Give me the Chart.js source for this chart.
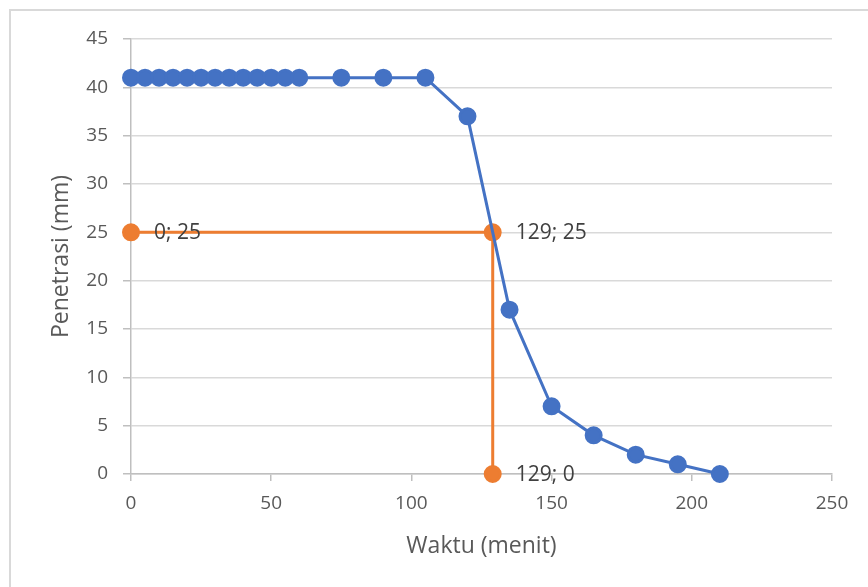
<!DOCTYPE html>
<html>
<head>
<meta charset="utf-8">
<script src="https://cdn.jsdelivr.net/npm/chart.js@4.4.0/dist/chart.umd.min.js"></script>
<style>
  html, body { margin: 0; padding: 0; background: #fff; }
  #wrap { position: relative; width: 868px; height: 587px; overflow: hidden; }
  #frame { position: absolute; left: 9px; top: 9px; width: 900px; height: 620px;
           border-left: 2px solid #d9d9d9; border-top: 2px solid #d9d9d9; box-sizing: border-box; }
  canvas { position: absolute; left: 0; top: 0; }
</style>
</head>
<body>
<div id="wrap">
  <div id="frame"></div>
  <canvas id="c" width="868" height="587"></canvas>
</div>
<script>
// Penetration test readings over time
const waktu = [0, 5, 10, 15, 20, 25, 30, 35, 40, 45, 50, 55, 60, 75, 90, 105, 120, 135, 150, 165, 180, 195, 210];
const penetrasi = [41, 41, 41, 41, 41, 41, 41, 41, 41, 41, 41, 41, 41, 41, 41, 41, 37, 17, 7, 4, 2, 1, 0];

// Reading of setting time at 25 mm penetration
const batasX = [0, 129, 129];
const batasY = [25, 25, 0];

const FONT = "'Open Sans', 'Liberation Sans', sans-serif";
const GRID = '#d9d9d9';
const AXIS = '#bfbfbf';
const TEXT = '#595959';

const toPoints = (xs, ys) => xs.map((x, i) => ({ x: x, y: ys[i] }));

const pointLabels = {
  id: 'pointLabels',
  afterDatasetsDraw(chart) {
    const ctx = chart.ctx;
    const meta = chart.getDatasetMeta(1);
    ctx.save();
    ctx.font = "21px " + FONT;
    ctx.fillStyle = '#404040';
    ctx.textAlign = 'left';
    ctx.textBaseline = 'middle';
    meta.data.forEach((el, i) => {
      ctx.fillText(batasX[i] + '; ' + batasY[i], el.x + 23, el.y + 1);
    });
    ctx.restore();
  }
};

new Chart(document.getElementById('c'), {
  type: 'scatter',
  data: {
    datasets: [
      {
        data: toPoints(waktu, penetrasi),
        showLine: true,
        borderColor: '#4472C4',
        backgroundColor: '#4472C4',
        borderWidth: 3,
        pointRadius: 7.5,
        pointHoverRadius: 7.5,
        clip: false
      },
      {
        data: toPoints(batasX, batasY),
        showLine: true,
        borderColor: '#ED7D31',
        backgroundColor: '#ED7D31',
        borderWidth: 3,
        pointRadius: 7.5,
        pointHoverRadius: 7.5,
        clip: false
      }
    ]
  },
  options: {
    responsive: false,
    animation: false,
    layout: { padding: { left: 0, right: 36, top: 39, bottom: 0 } },
    plugins: { legend: { display: false }, tooltip: { enabled: false } },
    scales: {
      x: {
        type: 'linear',
        min: 0, max: 250,
        ticks: { stepSize: 50, color: TEXT, font: { family: FONT, size: 19 }, padding: 11 },
        grid: { drawOnChartArea: false, drawTicks: true, tickLength: 7, color: AXIS, lineWidth: 1.5 },
        border: { color: AXIS, width: 1.5 },
        title: { display: true, text: 'Waktu (menit)', color: TEXT, font: { family: FONT, size: 23 }, padding: { top: 0, bottom: 27 } },
        afterFit(scale) { scale.height = 113; }
      },
      y: {
        type: 'linear',
        min: 0, max: 45,
        ticks: { stepSize: 5, color: TEXT, font: { family: FONT, size: 19 }, padding: 15 },
        grid: { color: GRID, lineWidth: 1.5, drawTicks: true, tickLength: 8, tickColor: AXIS },
        border: { color: AXIS, width: 1.5 },
        title: { display: true, text: 'Penetrasi (mm)', color: TEXT, font: { family: FONT, size: 23 }, padding: { top: 48, bottom: 0 } },
        afterFit(scale) { scale.width = 131; }
      }
    }
  },
  plugins: [pointLabels]
});
</script>
</body>
</html>
